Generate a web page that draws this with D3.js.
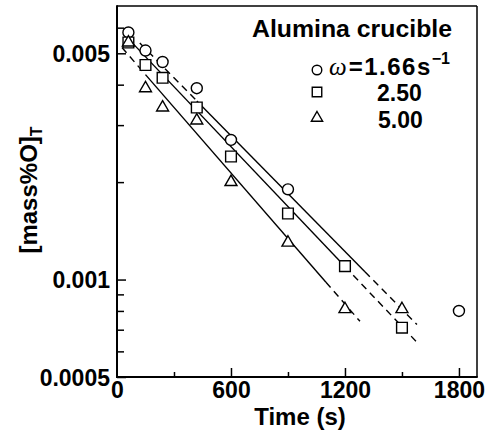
<!DOCTYPE html>
<html><head><meta charset="utf-8">
<script src="https://cdn.jsdelivr.net/npm/d3@7"></script>
<style>body{margin:0;background:#fff} svg{display:block}</style>
</head><body><svg id="c" width="491" height="432"></svg>
<script>
// ---- data (time in s, [mass%O]T) ----
const tCircle=[60,150,240,420,600,900,1800];
const vCircle=[0.0058,0.0051,0.0047,0.0039,0.0027,0.0019,0.0008];
const tSquare=[60,150,240,420,600,900,1200,1500];
const vSquare=[0.0054,0.0046,0.0042,0.0034,0.0024,0.0016,0.0011,0.00071];
const tTriangle=[60,150,240,420,600,900,1200,1500];
const vTriangle=[0.0054,0.0039,0.0034,0.0031,0.0020,0.0013,0.00081,0.00081];
// fitted lines (circle, square, triangle): endpoints and solid section
const fitStartT=[120,58,26];
const fitStartV=[0.00538,0.00556,0.00521];
const fitEndT=[1579,1579,1279];
const fitEndV=[0.000726,0.00064,0.000743];
const fitSolidFrom=[420,58,150];
const fitSolidTo=[1305,1200,1100];
const xTicksMajor=[0,600,1200,1800];
const xTicksMinor=[300,900,1500];
const yTicksMajor=[0.0005,0.001,0.005];
const yTickLabels=["0.0005","0.001","0.005"];
const yTicksMinor=[0.0006,0.0007,0.0008,0.0009,0.002,0.003,0.004,0.006];
const legendValues=["=1.66s","2.50","5.00"];

const svg=d3.select("#c");
const FONT="'Liberation Sans', Arial, Helvetica, sans-serif";
const L=117,R=477,T=6,B=377;
const x=d3.scaleLinear().domain([0,1895]).range([L,R]);
const y=d3.scaleLog().domain([0.0005,0.007]).range([B,T]);

// fit lines
function logInterp(t0,v0,t1,v1,t){const f=(t-t0)/(t1-t0);return Math.pow(10,Math.log10(v0)+f*(Math.log10(v1)-Math.log10(v0)));}
const lineG=svg.append("g").attr("fill","none").attr("stroke","#000").attr("stroke-width",1.4);
for(let i=0;i<3;i++){
  const t0=fitStartT[i],v0=fitStartV[i],t1=fitEndT[i],v1=fitEndV[i];
  const segs=[[t0,fitSolidFrom[i],true],[fitSolidFrom[i],fitSolidTo[i],false],[fitSolidTo[i],t1,true]];
  segs.forEach(([a,b,dashed])=>{
    if(b-a<=0)return;
    lineG.append("line")
      .attr("x1",x(a)).attr("y1",y(logInterp(t0,v0,t1,v1,a)))
      .attr("x2",x(b)).attr("y2",y(logInterp(t0,v0,t1,v1,b)))
      .attr("stroke-dasharray",dashed?"7,5":null);
  });
}

// markers
function drawMarkers(ts,vs,type,size){
  svg.append("g").selectAll("path").data(ts).join("path")
    .attr("d",d3.symbol(type,size))
    .attr("transform",(d,i)=>`translate(${x(d)},${y(vs[i])})`)
    .attr("fill","#fff").attr("stroke","#000").attr("stroke-width",1.4);
}
drawMarkers(tCircle,vCircle,d3.symbolCircle,95);
drawMarkers(tSquare,vSquare,d3.symbolSquare,115);
drawMarkers(tTriangle,vTriangle,d3.symbolTriangle,62);

// axes
const xAx=svg.append("g").attr("transform",`translate(0,${B})`)
  .call(d3.axisBottom(x).tickValues(xTicksMajor).tickSizeInner(-9).tickSizeOuter(0).tickPadding(5).tickFormat(d3.format("d")));
const xAxMin=svg.append("g").attr("transform",`translate(0,${B})`)
  .call(d3.axisBottom(x).tickValues(xTicksMinor).tickSizeInner(-5).tickSizeOuter(0).tickFormat(""));
const yAx=svg.append("g").attr("transform",`translate(${L},0)`)
  .call(d3.axisLeft(y).tickValues(yTicksMajor).tickSizeInner(-9).tickSizeOuter(0).tickPadding(7).tickFormat((d,i)=>yTickLabels[i]));
const yAxMin=svg.append("g").attr("transform",`translate(${L},0)`)
  .call(d3.axisLeft(y).tickValues(yTicksMinor).tickSizeInner(-7).tickSizeOuter(0).tickFormat(""));
[xAx,xAxMin,yAx,yAxMin].forEach(g=>{
  g.select(".domain").remove();
  g.selectAll("line").attr("stroke","#000").attr("stroke-width",1.5);
  g.selectAll("text").attr("font-family",FONT).attr("font-weight","bold").attr("font-size",23).attr("fill","#000");
});
yAx.selectAll("text").attr("dy","0.36em");
xAx.selectAll(".tick").filter(d=>d===0).select("line").remove();

// frame
svg.append("line").attr("x1",L).attr("y1",T).attr("x2",R).attr("y2",T).attr("stroke","#000").attr("stroke-width",1.5);
svg.append("line").attr("x1",R).attr("y1",T).attr("x2",R).attr("y2",B).attr("stroke","#000").attr("stroke-width",1.5);
svg.append("line").attr("x1",L).attr("y1",T-0.75).attr("x2",L).attr("y2",B+1).attr("stroke","#000").attr("stroke-width",2);
svg.append("line").attr("x1",L-1).attr("y1",B).attr("x2",R+0.75).attr("y2",B).attr("stroke","#000").attr("stroke-width",2);

// axis titles
svg.append("text").attr("x",300).attr("y",425).attr("text-anchor","middle")
  .attr("font-family",FONT).attr("font-weight","bold").attr("font-size",24).text("Time (s)");
const yl=svg.append("text").attr("transform","translate(37,190) rotate(-90)").attr("text-anchor","middle")
  .attr("font-family",FONT).attr("font-weight","bold").attr("font-size",24);
yl.append("tspan").text("[mass%O]");
yl.append("tspan").attr("font-size",16).attr("dy",5).text("T");

// legend
const lg=svg.append("g");
lg.append("text").attr("x",252).attr("y",37).attr("font-family",FONT).attr("font-weight","bold")
  .attr("font-size",23).attr("textLength",200).attr("lengthAdjust","spacingAndGlyphs").text("Alumina crucible");
const legSyms=[d3.symbolCircle,d3.symbolSquare,d3.symbolTriangle];
const legSizes=[72,90,55];
const legY=[70,92,118];
legSyms.forEach((s,i)=>{
  lg.append("path").attr("d",d3.symbol(s,legSizes[i])).attr("transform",`translate(317,${legY[i]})`)
    .attr("fill","#fff").attr("stroke","#000").attr("stroke-width",1.4);
});
const t1=lg.append("text").attr("x",329).attr("y",75).attr("font-family",FONT).attr("font-weight","bold").attr("font-size",24);
t1.append("tspan").attr("font-family","'Liberation Serif', 'Times New Roman', serif").attr("font-style","italic").attr("font-weight","normal").attr("font-size",25).text("ω");
t1.append("tspan").attr("dx",2).attr("letter-spacing",1.5).text(legendValues[0]);
t1.append("tspan").attr("font-size",16).attr("dy",-11).text("−1");
lg.append("text").attr("x",377).attr("y",101).attr("font-family",FONT).attr("font-weight","bold").attr("font-size",23).text(legendValues[1]);
lg.append("text").attr("x",378).attr("y",128).attr("font-family",FONT).attr("font-weight","bold").attr("font-size",23).text(legendValues[2]);
</script>
</body></html>
